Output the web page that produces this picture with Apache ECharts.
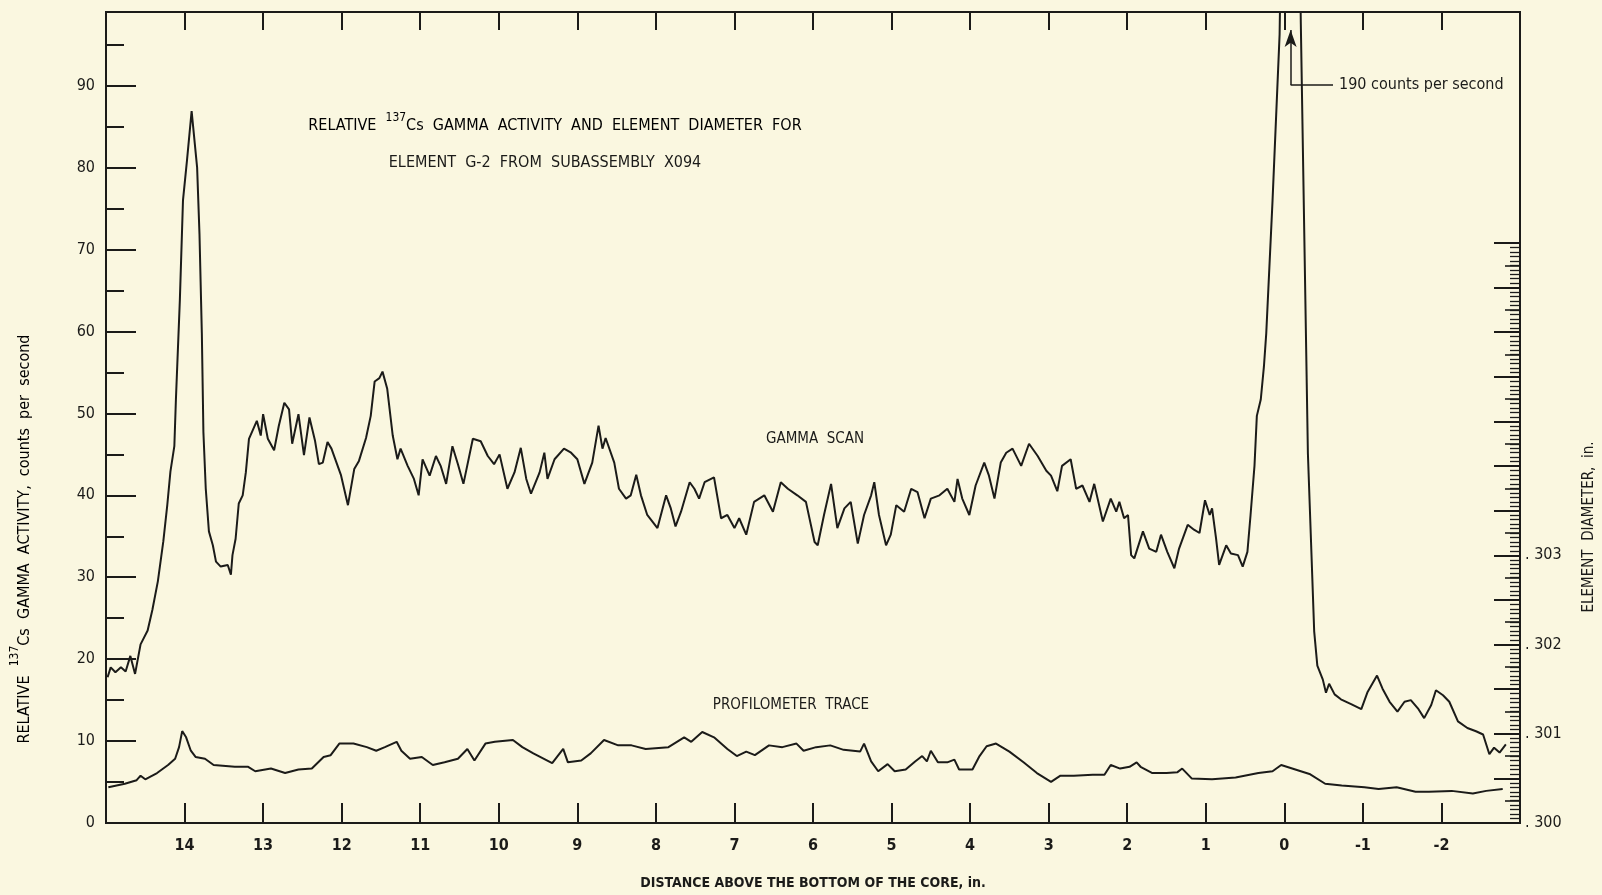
<!DOCTYPE html>
<html>
<head>
<meta charset="utf-8">
<title>137Cs gamma activity and element diameter, element G-2</title>
<script src="https://cdn.jsdelivr.net/npm/echarts@6/dist/echarts.min.js"></script>
<style>
  html, body { margin: 0; padding: 0; background: #faf7e0; }
  #chart { width: 1602px; height: 895px; }
</style>
</head>
<body>
<div id="chart"></div>
<script>
// Gamma scan: [distance above bottom of core (in.), counts per second]
const gammaScan = [
  [14.98,17.8],[14.94,19.0],[14.88,18.4],[14.81,19.0],[14.75,18.5],[14.69,20.4],[14.63,18.2],
  [14.56,21.8],[14.47,23.5],[14.41,26.0],[14.34,29.5],[14.27,34.4],[14.22,38.8],[14.18,42.9],
  [14.13,46.0],[14.11,51.7],[14.06,63.8],[14.02,76.0],[13.97,80.8],[13.91,86.9],[13.84,80.0],
  [13.81,71.9],[13.78,59.8],[13.76,47.7],[13.73,40.8],[13.69,35.6],[13.64,33.9],[13.60,31.9],
  [13.54,31.3],[13.45,31.5],[13.41,30.3],[13.39,32.7],[13.35,34.7],[13.31,39.0],[13.26,40.0],
  [13.22,42.8],[13.18,46.9],[13.13,48.0],[13.08,49.1],[13.03,47.3],[13.00,49.9],[12.94,46.9],
  [12.86,45.5],[12.80,48.5],[12.73,51.3],[12.67,50.5],[12.63,46.3],[12.55,49.9],[12.48,44.9],
  [12.41,49.5],[12.34,46.7],[12.29,43.8],[12.24,44.0],[12.18,46.5],[12.13,45.7],[12.01,42.5],
  [11.92,38.8],[11.84,43.2],[11.78,44.2],[11.69,47.0],[11.63,49.7],[11.58,53.9],[11.52,54.3],
  [11.48,55.1],[11.42,53.0],[11.35,47.3],[11.29,44.4],[11.25,45.7],[11.16,43.6],[11.08,42.0],
  [11.02,40.0],[10.97,44.4],[10.88,42.4],[10.80,44.8],[10.74,43.6],[10.67,41.4],[10.59,46.0],
  [10.52,43.8],[10.45,41.4],[10.33,46.9],[10.23,46.6],[10.14,44.8],[10.06,43.8],[9.99,45.0],
  [9.89,40.8],[9.80,42.8],[9.72,45.8],[9.65,42.0],[9.59,40.2],[9.48,42.8],[9.42,45.2],
  [9.38,42.0],[9.29,44.4],[9.17,45.7],[9.08,45.2],[9.00,44.4],[8.91,41.4],[8.81,44.0],
  [8.73,48.5],[8.68,45.7],[8.64,47.0],[8.53,44.0],[8.47,40.8],[8.38,39.6],[8.32,40.0],
  [8.25,42.5],[8.19,40.0],[8.11,37.6],[7.98,36.0],[7.87,40.0],[7.81,38.4],[7.75,36.2],
  [7.68,38.0],[7.57,41.6],[7.51,40.8],[7.45,39.6],[7.38,41.6],[7.26,42.2],[7.17,37.2],
  [7.09,37.6],[7.00,36.0],[6.94,37.2],[6.85,35.2],[6.75,39.2],[6.62,40.0],[6.51,38.0],
  [6.41,41.6],[6.32,40.8],[6.20,40.0],[6.09,39.2],[5.98,34.3],[5.94,33.9],[5.86,37.6],
  [5.77,41.4],[5.69,36.0],[5.60,38.4],[5.52,39.2],[5.43,34.1],[5.35,37.6],[5.26,40.0],
  [5.22,41.6],[5.16,37.6],[5.07,33.9],[5.01,35.2],[4.94,38.8],[4.84,38.0],[4.75,40.8],
  [4.67,40.4],[4.58,37.2],[4.50,39.6],[4.39,40.0],[4.29,40.8],[4.20,39.2],[4.16,42.0],
  [4.10,39.6],[4.01,37.6],[3.93,41.2],[3.82,44.0],[3.76,42.4],[3.69,39.6],[3.61,44.0],
  [3.54,45.2],[3.46,45.7],[3.35,43.6],[3.25,46.3],[3.14,44.8],[3.03,43.0],[2.97,42.4],
  [2.89,40.5],[2.83,43.6],[2.72,44.4],[2.65,40.8],[2.57,41.2],[2.48,39.2],[2.42,41.4],
  [2.31,36.8],[2.21,39.6],[2.14,38.0],[2.10,39.2],[2.04,37.2],[1.99,37.6],[1.95,32.7],
  [1.91,32.3],[1.80,35.6],[1.72,33.5],[1.63,33.1],[1.57,35.2],[1.49,33.1],[1.40,31.1],
  [1.34,33.5],[1.23,36.4],[1.15,35.8],[1.08,35.4],[1.01,39.4],[0.95,37.6],[0.92,38.4],
  [0.87,34.8],[0.83,31.5],[0.74,33.9],[0.68,32.9],[0.59,32.7],[0.53,31.3],[0.47,33.1],
  [0.43,37.6],[0.38,43.6],[0.35,49.7],[0.30,51.7],[0.26,55.7],[0.23,59.8],[0.15,76.0],
  [0.06,96.3],[-0.08,190],[-0.21,97.5],[-0.30,45.1],[-0.34,34.3],[-0.38,23.4],[-0.42,19.2],
  [-0.49,17.5],[-0.53,15.9],[-0.57,17.0],[-0.64,15.7],[-0.72,15.1],[-0.85,14.5],[-0.98,13.9],
  [-1.06,16.0],[-1.18,18.0],[-1.25,16.4],[-1.34,14.8],[-1.44,13.6],[-1.53,14.8],[-1.61,15.0],
  [-1.70,14.0],[-1.78,12.8],[-1.87,14.4],[-1.93,16.2],[-2.02,15.6],[-2.10,14.8],[-2.21,12.4],
  [-2.33,11.6],[-2.44,11.2],[-2.53,10.8],[-2.61,8.4],[-2.67,9.2],[-2.74,8.6],[-2.82,9.6]
];

// Profilometer trace: [distance above bottom of core (in.), element diameter (in.)]
const profilometer = [
  [14.97,0.30040],[14.76,0.30044],[14.61,0.30048],[14.56,0.30053],[14.50,0.30049],[14.35,0.30056],
  [14.21,0.30065],[14.12,0.30072],[14.07,0.30085],[14.03,0.30103],[13.98,0.30096],[13.92,0.30081],
  [13.86,0.30074],[13.74,0.30072],[13.63,0.30065],[13.36,0.30063],[13.19,0.30063],[13.10,0.30058],
  [12.90,0.30061],[12.72,0.30056],[12.55,0.30060],[12.38,0.30061],[12.23,0.30074],[12.14,0.30076],
  [12.03,0.30089],[11.85,0.30089],[11.68,0.30085],[11.56,0.30081],[11.45,0.30085],[11.30,0.30091],
  [11.24,0.30081],[11.13,0.30072],[10.98,0.30074],[10.84,0.30065],[10.69,0.30068],[10.52,0.30072],
  [10.40,0.30083],[10.31,0.30070],[10.17,0.30089],[10.05,0.30091],[9.82,0.30093],[9.70,0.30085],
  [9.56,0.30078],[9.32,0.30067],[9.18,0.30083],[9.12,0.30068],[8.95,0.30070],[8.83,0.30078],
  [8.66,0.30093],[8.48,0.30087],[8.31,0.30087],[8.13,0.30083],[7.84,0.30085],[7.64,0.30096],
  [7.55,0.30091],[7.41,0.30102],[7.26,0.30096],[7.09,0.30083],[6.97,0.30075],[6.85,0.30080],
  [6.74,0.30076],[6.56,0.30087],[6.39,0.30085],[6.21,0.30089],[6.12,0.30081],[5.96,0.30085],
  [5.78,0.30087],[5.61,0.30082],[5.40,0.30080],[5.35,0.30089],[5.26,0.30069],[5.17,0.30058],
  [5.05,0.30066],[4.96,0.30058],[4.82,0.30060],[4.70,0.30069],[4.61,0.30075],[4.55,0.30069],
  [4.50,0.30081],[4.41,0.30068],[4.29,0.30068],[4.20,0.30071],[4.14,0.30060],[3.97,0.30060],
  [3.88,0.30075],[3.79,0.30086],[3.67,0.30089],[3.50,0.30080],[3.32,0.30068],[3.15,0.30056],
  [2.97,0.30046],[2.85,0.30053],[2.68,0.30053],[2.44,0.30054],[2.29,0.30054],[2.21,0.30065],
  [2.09,0.30061],[1.97,0.30063],[1.88,0.30068],[1.83,0.30063],[1.68,0.30056],[1.50,0.30056],
  [1.36,0.30057],[1.30,0.30061],[1.18,0.30050],[0.92,0.30049],[0.62,0.30051],[0.33,0.30056],
  [0.15,0.30058],[0.04,0.30065],[-0.14,0.30060],[-0.32,0.30055],[-0.52,0.30044],[-0.73,0.30042],
  [-1.02,0.30040],[-1.20,0.30038],[-1.43,0.30040],[-1.67,0.30035],[-1.84,0.30035],[-2.13,0.30036],
  [-2.40,0.30033],[-2.57,0.30036],[-2.78,0.30038]
];

// Off-scale peak at the bottom of the core and its call-out
const peakPosition = -0.08;
const peakCounts = 190;
const peakNote = peakCounts + ' counts per second';

// Axis ranges and labelled ticks
const distanceRange = [-3, 15];
const distanceLabels = [14, 13, 12, 11, 10, 9, 8, 7, 6, 5, 4, 3, 2, 1, 0, -1, -2];
const countsRange = [0, 99];
const diameterRange = [0.300, 0.3065];
const diameterLabels = [0.300, 0.301, 0.302, 0.303];

const FONT = "'Liberation Sans Narrow','DejaVu Sans Condensed',sans-serif";
const INK = '#1b1b19';

const chart = echarts.init(document.getElementById('chart'), null, { renderer: 'canvas' });

const plotLeft = 106, plotRight = 82, plotTop = 12, plotBottom = 72;
const diameterTop = 243;

const distanceAxisBase = {
  type: 'value', min: distanceRange[0], max: distanceRange[1], interval: 1, inverse: true,
  splitLine: { show: false }
};

chart.setOption({
  backgroundColor: '#faf7e0',
  animation: false,
  grid: [
    { left: plotLeft, right: plotRight, top: plotTop, bottom: plotBottom,
      show: true, borderColor: INK, borderWidth: 2, backgroundColor: 'transparent' },
    { left: plotLeft, right: plotRight, top: diameterTop, bottom: plotBottom }
  ],
  xAxis: [
    Object.assign({}, distanceAxisBase, {
      gridIndex: 0, position: 'bottom',
      axisLine: { show: true, onZero: false, lineStyle: { color: INK, width: 2 } },
      axisTick: { show: true, inside: true, length: 20, lineStyle: { color: INK, width: 2 } },
      axisLabel: {
        margin: 15, color: INK, fontFamily: FONT, fontSize: 16, fontWeight: 'bold',
        formatter: v => distanceLabels.indexOf(Math.round(v)) >= 0 ? String(Math.round(v)) : ''
      },
      name: 'DISTANCE ABOVE THE BOTTOM OF THE CORE, in.',
      nameLocation: 'middle', nameGap: 53,
      nameTextStyle: { color: INK, fontFamily: FONT, fontSize: 14, fontWeight: 'bold' }
    }),
    Object.assign({}, distanceAxisBase, {
      gridIndex: 0, position: 'top',
      axisLine: { show: true, onZero: false, lineStyle: { color: INK, width: 2 } },
      axisTick: { show: true, inside: true, length: 18, lineStyle: { color: INK, width: 2 } },
      axisLabel: { show: false }
    }),
    Object.assign({}, distanceAxisBase, {
      gridIndex: 1, show: false, axisLine: { onZero: false }
    })
  ],
  yAxis: [
    {
      type: 'value', gridIndex: 0, position: 'left',
      min: countsRange[0], max: countsRange[1], interval: 10,
      splitLine: { show: false },
      axisLine: { show: true, onZero: false, lineStyle: { color: INK, width: 2 } },
      axisTick: { show: true, inside: true, length: 30, lineStyle: { color: INK, width: 2 } },
      minorTick: { show: true, splitNumber: 2, length: 18, lineStyle: { color: INK, width: 2 } },
      axisLabel: {
        margin: 11, color: INK, fontFamily: FONT, fontSize: 16,
        formatter: v => (v % 10 === 0 ? String(v) : '')
      }
    },
    {
      type: 'value', gridIndex: 1, position: 'right',
      min: diameterRange[0], max: diameterRange[1], interval: 0.0005,
      splitLine: { show: false },
      axisLine: { show: true, onZero: false, lineStyle: { color: INK, width: 2 } },
      axisTick: { show: true, inside: true, length: 26, lineStyle: { color: INK, width: 2 } },
      minorTick: { show: true, splitNumber: 10, length: 10, lineStyle: { color: INK, width: 1.3 } },
      axisLabel: {
        margin: 5, color: INK, fontFamily: FONT, fontSize: 16,
        formatter: v => {
          const hit = diameterLabels.find(d => Math.abs(d - v) < 1e-7);
          return hit === undefined ? '' : '. ' + Math.round(hit * 1000);
        }
      }
    },
    {
      type: 'value', gridIndex: 1, position: 'right',
      min: diameterRange[0], max: diameterRange[1], interval: 0.00025,
      splitLine: { show: false },
      axisLine: { show: false, onZero: false },
      axisTick: { show: true, inside: true, length: 15, lineStyle: { color: INK, width: 1.6 } },
      axisLabel: { show: false }
    }
  ],
  series: [
    {
      name: 'GAMMA SCAN', type: 'line', xAxisIndex: 0, yAxisIndex: 0,
      data: gammaScan, showSymbol: false, clip: true, silent: true,
      lineStyle: { color: INK, width: 2 },
      markLine: {
        silent: true, animation: false,
        symbol: ['none', 'none'],
        lineStyle: { color: INK, width: 1.5, type: 'solid' },
        label: { show: false },
        data: [
          [
            { coord: [peakPosition, 90.1] },
            { coord: [peakPosition, 96.8], symbol: 'arrow', symbolSize: [9, 17] }
          ],
          [
            { coord: [peakPosition, 90.1],
              label: { show: true, position: 'end', distance: 6, formatter: peakNote,
                       color: INK, fontFamily: FONT, fontSize: 16 } },
            { coord: [-0.62, 90.1],
              label: { show: true, position: 'end', distance: 6, formatter: peakNote,
                       color: INK, fontFamily: FONT, fontSize: 16 } }
          ]
        ]
      }
    },
    {
      name: 'PROFILOMETER TRACE', type: 'line', xAxisIndex: 2, yAxisIndex: 1,
      data: profilometer, showSymbol: false, silent: true,
      lineStyle: { color: INK, width: 2 }
    }
  ],
  graphic: [
    {
      type: 'text', x: 555, y: 123,
      style: {
        text: '{t|RELATIVE  }{s|137}{t|Cs  GAMMA  ACTIVITY  AND  ELEMENT  DIAMETER  FOR}',
        textAlign: 'center', textVerticalAlign: 'middle',
        rich: {
          t: { fontFamily: FONT, fontSize: 16, color: INK, lineHeight: 22, verticalAlign: 'bottom' },
          s: { fontFamily: FONT, fontSize: 12, color: INK, lineHeight: 22, verticalAlign: 'top' }
        }
      }
    },
    {
      type: 'text', x: 545, y: 163,
      style: {
        text: 'ELEMENT  G-2  FROM  SUBASSEMBLY  X094',
        textAlign: 'center', textVerticalAlign: 'middle',
        fontFamily: FONT, fontSize: 16, fill: INK
      }
    },
    {
      type: 'text', x: 815, y: 439,
      style: { text: 'GAMMA  SCAN', textAlign: 'center', textVerticalAlign: 'middle',
               fontFamily: FONT, fontSize: 15, fill: INK }
    },
    {
      type: 'text', x: 791, y: 705,
      style: { text: 'PROFILOMETER  TRACE', textAlign: 'center', textVerticalAlign: 'middle',
               fontFamily: FONT, fontSize: 15, fill: INK }
    },
    {
      type: 'text', x: 21, y: 539, rotation: Math.PI / 2,
      style: {
        text: '{t|RELATIVE  }{s|137}{t|Cs  GAMMA  ACTIVITY,  counts  per  second}',
        textAlign: 'center', textVerticalAlign: 'middle',
        rich: {
          t: { fontFamily: FONT, fontSize: 16, color: INK, lineHeight: 24, verticalAlign: 'bottom' },
          s: { fontFamily: FONT, fontSize: 12, color: INK, lineHeight: 24, verticalAlign: 'top' }
        }
      }
    },
    {
      type: 'text', x: 1589, y: 527, rotation: Math.PI / 2,
      style: { text: 'ELEMENT  DIAMETER,  in.', textAlign: 'center', textVerticalAlign: 'middle',
               fontFamily: FONT, fontSize: 15, fill: INK }
    }
  ]
});
</script>
</body>
</html>
